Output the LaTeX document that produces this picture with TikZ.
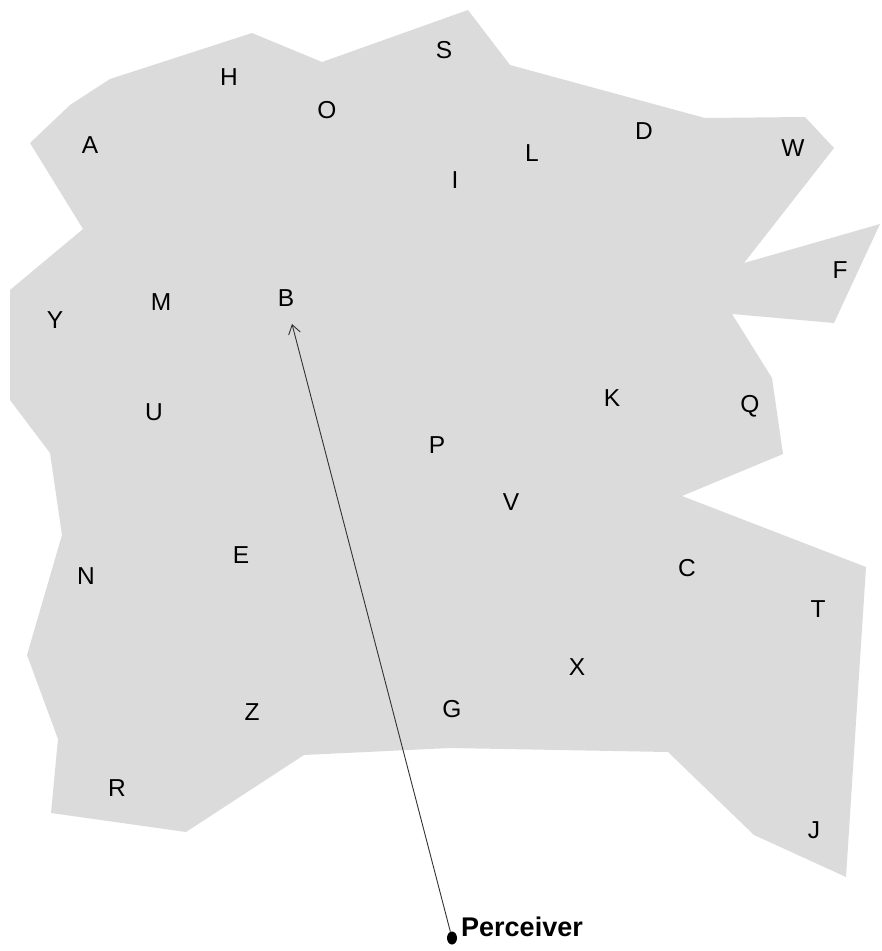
\documentclass[tikz,border=0pt]{standalone}
\usepackage{fontspec}
\setmainfont{Liberation Sans}
\usetikzlibrary{arrows.meta,shapes.geometric}
\definecolor{regiongray}{RGB}{219,219,219}
\definecolor{arrowgray}{RGB}{50,50,50}
\tikzset{
  lbl/.style={font=\fontsize{24.5}{24.5}\selectfont, inner sep=0pt, text=black},
  region/.style={fill=regiongray, draw=none},
  sight/.style={draw=arrowgray, line width=0.9pt, -{Straight Barb[length=9pt,width=12pt]}},
  eye/.style={ellipse, fill=black, minimum width=10pt, minimum height=13pt, inner sep=0pt}
}
\begin{document}
\begin{tikzpicture}[x=1pt,y=-1pt]
\useasboundingbox (0,0) rectangle (882,951);
\fill[region] (30,143) -- (70,105) -- (110,79) -- (252,33) -- (322,62) -- (468,10)
  -- (510,65) -- (705,118) -- (805,117) -- (834,148) -- (744,263) -- (880,224)
  -- (834,323) -- (732,314) -- (772,378) -- (783,454) -- (682,496) -- (866,567)
  -- (846,877) -- (754,835) -- (668,752) -- (450,748) -- (304,755) -- (186,832)
  -- (51,813) -- (58,739) -- (27,655) -- (62,535) -- (50,453) -- (10,400)
  -- (10,290) -- (83,229) -- cycle;
\node[lbl] (A) at (90,145) {A};
\node[lbl] (H) at (229,77) {H};
\node[lbl] (O) at (327,110) {O};
\node[lbl] (S) at (444,50) {S};
\node[lbl] (I) at (455,180) {I};
\node[lbl] (L) at (532,153) {L};
\node[lbl] (D) at (644,131) {D};
\node[lbl] (W) at (793,148) {W};
\node[lbl] (F) at (840,270) {F};
\node[lbl] (Y) at (55,320) {Y};
\node[lbl] (M) at (161,302) {M};
\node[lbl] (B) at (286,298) {B};
\node[lbl] (U) at (154,412) {U};
\node[lbl] (K) at (612,398) {K};
\node[lbl] (Q) at (750,406) {Q};
\node[lbl] (P) at (437,445) {P};
\node[lbl] (V) at (511,502) {V};
\node[lbl] (E) at (241,555) {E};
\node[lbl] (N) at (86,576) {N};
\node[lbl] (C) at (687,568) {C};
\node[lbl] (T) at (818,609) {T};
\node[lbl] (X) at (577,667) {X};
\node[lbl] (G) at (452,709) {G};
\node[lbl] (Z) at (252,712) {Z};
\node[lbl] (R) at (117,788) {R};
\node[lbl] (J) at (814,830) {J};
\node[eye] (perc) at (452,938) {};
\node[lbl, anchor=west, font=\fontsize{27}{27}\selectfont\bfseries] (perclabel) at (461,927) {Perceiver};
\coordinate (btip) at (292,324);
\draw[sight] (perc) -- (btip);
\end{tikzpicture}
\end{document}
